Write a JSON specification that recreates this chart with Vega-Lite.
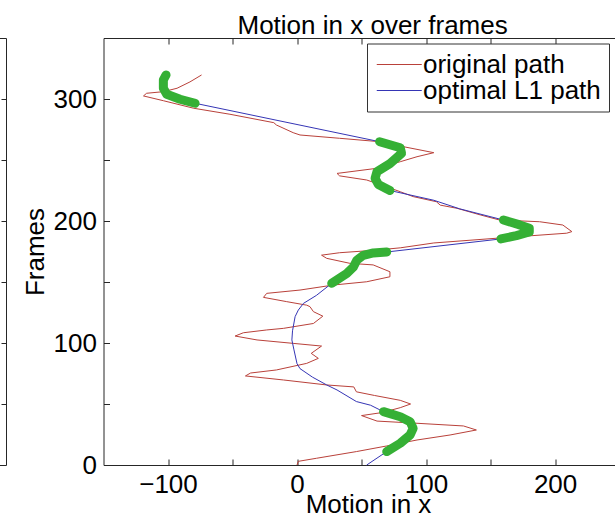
{
  "$schema": "https://vega.github.io/schema/vega-lite/v6.json",
  "padding": {"left": -5, "top": 12, "right": 0, "bottom": 0},
  "background": "white",
  "title": {"text": "Motion in x over frames", "anchor": "start", "frame": "bounds", "dx": 242, "fontSize": 26, "font": "Liberation Sans", "fontWeight": "normal", "color": "black", "baseline": "alphabetic", "offset": -22.5},
  "datasets": {
    "paths": [
      {"series": "original path", "frame": 0, "x": 0},
      {"series": "original path", "frame": 3, "x": 1},
      {"series": "original path", "frame": 5.5, "x": 15},
      {"series": "original path", "frame": 11, "x": 46},
      {"series": "original path", "frame": 15.6, "x": 69.5},
      {"series": "original path", "frame": 20.5, "x": 93},
      {"series": "original path", "frame": 24.6, "x": 118.6},
      {"series": "original path", "frame": 28.7, "x": 139},
      {"series": "original path", "frame": 32, "x": 129},
      {"series": "original path", "frame": 34.2, "x": 93},
      {"series": "original path", "frame": 36, "x": 62},
      {"series": "original path", "frame": 40.5, "x": 50},
      {"series": "original path", "frame": 43, "x": 66},
      {"series": "original path", "frame": 47, "x": 80},
      {"series": "original path", "frame": 50, "x": 88},
      {"series": "original path", "frame": 53, "x": 80},
      {"series": "original path", "frame": 57, "x": 60},
      {"series": "original path", "frame": 60, "x": 46},
      {"series": "original path", "frame": 64, "x": 44},
      {"series": "original path", "frame": 65.6, "x": 23},
      {"series": "original path", "frame": 69.7, "x": -10.6},
      {"series": "original path", "frame": 73, "x": -40},
      {"series": "original path", "frame": 75.4, "x": -36},
      {"series": "original path", "frame": 77.9, "x": -16},
      {"series": "original path", "frame": 83.3, "x": 7.5},
      {"series": "original path", "frame": 87.4, "x": 16.5},
      {"series": "original path", "frame": 91.5, "x": 11},
      {"series": "original path", "frame": 97.5, "x": 19},
      {"series": "original path", "frame": 99.7, "x": -3},
      {"series": "original path", "frame": 102.5, "x": -31},
      {"series": "original path", "frame": 105.7, "x": -48},
      {"series": "original path", "frame": 108.4, "x": -41.6},
      {"series": "original path", "frame": 110.7, "x": -23.5},
      {"series": "original path", "frame": 112, "x": -10.6},
      {"series": "original path", "frame": 116, "x": 12.7},
      {"series": "original path", "frame": 122, "x": 20},
      {"series": "original path", "frame": 125.7, "x": 12.7},
      {"series": "original path", "frame": 129.8, "x": 10},
      {"series": "original path", "frame": 131, "x": 7.5},
      {"series": "original path", "frame": 133.9, "x": -8},
      {"series": "original path", "frame": 137.4, "x": -26},
      {"series": "original path", "frame": 140.7, "x": -23.5},
      {"series": "original path", "frame": 143.4, "x": 2.3},
      {"series": "original path", "frame": 147.5, "x": 28},
      {"series": "original path", "frame": 150.2, "x": 54},
      {"series": "original path", "frame": 154.3, "x": 72},
      {"series": "original path", "frame": 158.4, "x": 72},
      {"series": "original path", "frame": 164, "x": 59},
      {"series": "original path", "frame": 165.3, "x": 41},
      {"series": "original path", "frame": 169.4, "x": 23},
      {"series": "original path", "frame": 172, "x": 19},
      {"series": "original path", "frame": 174, "x": 33},
      {"series": "original path", "frame": 176, "x": 60},
      {"series": "original path", "frame": 178, "x": 80},
      {"series": "original path", "frame": 182, "x": 106},
      {"series": "original path", "frame": 186.3, "x": 160},
      {"series": "original path", "frame": 190, "x": 209},
      {"series": "original path", "frame": 191.3, "x": 213},
      {"series": "original path", "frame": 196.7, "x": 206},
      {"series": "original path", "frame": 199.4, "x": 188},
      {"series": "original path", "frame": 200.8, "x": 157},
      {"series": "original path", "frame": 205, "x": 142},
      {"series": "original path", "frame": 210.4, "x": 124},
      {"series": "original path", "frame": 213, "x": 111},
      {"series": "original path", "frame": 215.8, "x": 108},
      {"series": "original path", "frame": 220, "x": 90},
      {"series": "original path", "frame": 224, "x": 80},
      {"series": "original path", "frame": 228, "x": 69.5},
      {"series": "original path", "frame": 233.6, "x": 54},
      {"series": "original path", "frame": 237, "x": 33},
      {"series": "original path", "frame": 239, "x": 31},
      {"series": "original path", "frame": 243.2, "x": 62},
      {"series": "original path", "frame": 248.6, "x": 80},
      {"series": "original path", "frame": 252.7, "x": 93},
      {"series": "original path", "frame": 256, "x": 106},
      {"series": "original path", "frame": 260.9, "x": 82.5},
      {"series": "original path", "frame": 265, "x": 64},
      {"series": "original path", "frame": 267.8, "x": 33},
      {"series": "original path", "frame": 270.5, "x": 2.3},
      {"series": "original path", "frame": 272.4, "x": -3},
      {"series": "original path", "frame": 278.7, "x": -16},
      {"series": "original path", "frame": 280.6, "x": -18},
      {"series": "original path", "frame": 287.5, "x": -52},
      {"series": "original path", "frame": 292.4, "x": -80},
      {"series": "original path", "frame": 298.6, "x": -103.6},
      {"series": "original path", "frame": 302.5, "x": -119},
      {"series": "original path", "frame": 304.7, "x": -116.6},
      {"series": "original path", "frame": 306, "x": -103.6},
      {"series": "original path", "frame": 308.8, "x": -93},
      {"series": "original path", "frame": 314, "x": -83},
      {"series": "original path", "frame": 319.7, "x": -74},
      {"series": "optimal L1 path", "frame": 0, "x": 54},
      {"series": "optimal L1 path", "frame": 11, "x": 69.5},
      {"series": "optimal L1 path", "frame": 17.8, "x": 80},
      {"series": "optimal L1 path", "frame": 24.6, "x": 87.6},
      {"series": "optimal L1 path", "frame": 30, "x": 90},
      {"series": "optimal L1 path", "frame": 35.5, "x": 87.6},
      {"series": "optimal L1 path", "frame": 39.6, "x": 80},
      {"series": "optimal L1 path", "frame": 43.7, "x": 67},
      {"series": "optimal L1 path", "frame": 49, "x": 57},
      {"series": "optimal L1 path", "frame": 52, "x": 46},
      {"series": "optimal L1 path", "frame": 61.5, "x": 31},
      {"series": "optimal L1 path", "frame": 65.6, "x": 23},
      {"series": "optimal L1 path", "frame": 72, "x": 12},
      {"series": "optimal L1 path", "frame": 79, "x": 2.3},
      {"series": "optimal L1 path", "frame": 83, "x": 0},
      {"series": "optimal L1 path", "frame": 95, "x": -2.5},
      {"series": "optimal L1 path", "frame": 102.5, "x": -4},
      {"series": "optimal L1 path", "frame": 110, "x": -3.5},
      {"series": "optimal L1 path", "frame": 121.6, "x": -1.5},
      {"series": "optimal L1 path", "frame": 127, "x": 1},
      {"series": "optimal L1 path", "frame": 132.5, "x": 5},
      {"series": "optimal L1 path", "frame": 139, "x": 15},
      {"series": "optimal L1 path", "frame": 148.9, "x": 26.9},
      {"series": "optimal L1 path", "frame": 157, "x": 38.5},
      {"series": "optimal L1 path", "frame": 162.3, "x": 43.7},
      {"series": "optimal L1 path", "frame": 167.8, "x": 46.3},
      {"series": "optimal L1 path", "frame": 171.9, "x": 51.4},
      {"series": "optimal L1 path", "frame": 173.8, "x": 59.1},
      {"series": "optimal L1 path", "frame": 174.6, "x": 69.5},
      {"series": "optimal L1 path", "frame": 185.3, "x": 158},
      {"series": "optimal L1 path", "frame": 188, "x": 170},
      {"series": "optimal L1 path", "frame": 191, "x": 180},
      {"series": "optimal L1 path", "frame": 194, "x": 180},
      {"series": "optimal L1 path", "frame": 197, "x": 172},
      {"series": "optimal L1 path", "frame": 200.8, "x": 160},
      {"series": "optimal L1 path", "frame": 210, "x": 126},
      {"series": "optimal L1 path", "frame": 217, "x": 106},
      {"series": "optimal L1 path", "frame": 225, "x": 72},
      {"series": "optimal L1 path", "frame": 230, "x": 63},
      {"series": "optimal L1 path", "frame": 235, "x": 60.5},
      {"series": "optimal L1 path", "frame": 240.5, "x": 62},
      {"series": "optimal L1 path", "frame": 247, "x": 72},
      {"series": "optimal L1 path", "frame": 255.5, "x": 81},
      {"series": "optimal L1 path", "frame": 260, "x": 80},
      {"series": "optimal L1 path", "frame": 265, "x": 64},
      {"series": "optimal L1 path", "frame": 296.5, "x": -79},
      {"series": "optimal L1 path", "frame": 299.8, "x": -90.7},
      {"series": "optimal L1 path", "frame": 303.9, "x": -101},
      {"series": "optimal L1 path", "frame": 308.8, "x": -103.6},
      {"series": "optimal L1 path", "frame": 315.6, "x": -103.6},
      {"series": "optimal L1 path", "frame": 319.7, "x": -101.5}
    ],
    "highlight": [
      {"segment": 1, "frame": 11, "x": 69.5},
      {"segment": 1, "frame": 17.8, "x": 80},
      {"segment": 1, "frame": 24.6, "x": 87.6},
      {"segment": 1, "frame": 30, "x": 90},
      {"segment": 1, "frame": 35.5, "x": 87.6},
      {"segment": 1, "frame": 39.6, "x": 80},
      {"segment": 1, "frame": 43.7, "x": 67},
      {"segment": 2, "frame": 148.9, "x": 26.9},
      {"segment": 2, "frame": 157, "x": 38.5},
      {"segment": 2, "frame": 162.3, "x": 43.7},
      {"segment": 2, "frame": 167.8, "x": 46.3},
      {"segment": 2, "frame": 171.9, "x": 51.4},
      {"segment": 2, "frame": 173.8, "x": 59.1},
      {"segment": 2, "frame": 174.6, "x": 69.5},
      {"segment": 3, "frame": 185.3, "x": 158},
      {"segment": 3, "frame": 188, "x": 170},
      {"segment": 3, "frame": 191, "x": 180},
      {"segment": 3, "frame": 194, "x": 180},
      {"segment": 3, "frame": 197, "x": 172},
      {"segment": 3, "frame": 200.8, "x": 160},
      {"segment": 4, "frame": 225, "x": 72},
      {"segment": 4, "frame": 230, "x": 63},
      {"segment": 4, "frame": 235, "x": 60.5},
      {"segment": 4, "frame": 240.5, "x": 62},
      {"segment": 4, "frame": 247, "x": 72},
      {"segment": 4, "frame": 255.5, "x": 81},
      {"segment": 4, "frame": 260, "x": 80},
      {"segment": 4, "frame": 265, "x": 64},
      {"segment": 5, "frame": 296.5, "x": -79},
      {"segment": 5, "frame": 299.8, "x": -90.7},
      {"segment": 5, "frame": 303.9, "x": -101},
      {"segment": 5, "frame": 308.8, "x": -103.6},
      {"segment": 5, "frame": 315.6, "x": -103.6},
      {"segment": 5, "frame": 319.7, "x": -101.5}
    ]
  },
  "spacing": 14.5,
  "hconcat": [
    {
      "width": 10,
      "height": 427,
      "data": {"name": "paths"},
      "mark": {"type": "line", "strokeOpacity": 0, "clip": true},
      "encoding": {
        "x": {"field": "x", "type": "quantitative", "scale": {"domain": [-150, 260], "nice": false, "zero": false}, "axis": null},
        "y": {"field": "frame", "type": "quantitative", "scale": {"domain": [0, 350], "nice": false}, "axis": {"orient": "right", "values": [50, 100, 150, 200, 250, 300], "labels": false, "title": null, "tickSize": -5}},
        "detail": {"field": "series"},
        "order": {"field": "frame"}
      }
    },
    {
      "width": 529,
      "height": 427,
      "layer": [
        {
          "data": {"name": "paths"},
          "mark": {"type": "line", "strokeWidth": 1},
          "encoding": {
            "x": {"field": "x", "type": "quantitative", "scale": {"domain": [-150, 260], "nice": false, "zero": false}, "axis": {"values": [-100, -50, 0, 50, 100, 150, 200, 250], "labelExpr": "datum.value % 100 === 0 ? datum.label : ''", "title": "Motion in x", "labelPadding": 12, "titlePadding": -6}},
            "y": {"field": "frame", "type": "quantitative", "scale": {"domain": [0, 350], "nice": false}, "axis": {"values": [0, 50, 100, 150, 200, 250, 300], "labelExpr": "datum.value % 100 === 0 ? datum.label : ''", "title": "Frames", "labelPadding": 13, "titlePadding": 5}},
            "color": {"field": "series", "type": "nominal", "scale": {"domain": ["original path", "optimal L1 path"], "range": ["#b9413a", "#3535b5"]}, "legend": {"orient": "none", "legendX": 263.5, "legendY": 5.5, "title": null, "symbolType": "M-1,0H3", "symbolSize": 506.25, "symbolStrokeWidth": 1, "labelFontSize": 26, "labelFont": "Liberation Sans", "labelColor": "black", "labelLimit": 400, "strokeColor": "#333333", "fillColor": "white", "padding": 8, "rowPadding": 0, "labelOffset": 22}},
            "order": {"field": "frame"}
          }
        },
        {
          "data": {"name": "highlight"},
          "mark": {"type": "line", "strokeWidth": 9, "strokeCap": "round", "strokeJoin": "round", "color": "#35b035"},
          "encoding": {
            "x": {"field": "x", "type": "quantitative", "axis": {"orient": "top", "values": [-100, -50, 0, 50, 100, 150, 200, 250], "labels": false, "title": null}},
            "y": {"field": "frame", "type": "quantitative", "axis": {"orient": "right", "values": [50, 100, 150, 200, 250, 300], "labels": false, "title": null}},
            "detail": {"field": "segment"},
            "order": {"field": "frame"}
          }
        }
      ],
      "resolve": {"axis": {"x": "independent", "y": "independent"}}
    }
  ],
  "resolve": {"scale": {"color": "independent"}, "legend": {"color": "independent"}},
  "config": {
    "font": "Liberation Sans",
    "view": {"stroke": "#262626", "strokeWidth": 1},
    "axis": {"grid": false, "domain": false, "tickColor": "#262626", "tickSize": -6, "labelFontSize": 26, "labelColor": "black", "titleFontSize": 26, "titleFontWeight": "normal", "titleColor": "black", "labelFont": "Liberation Sans", "titleFont": "Liberation Sans"}
  }
}
